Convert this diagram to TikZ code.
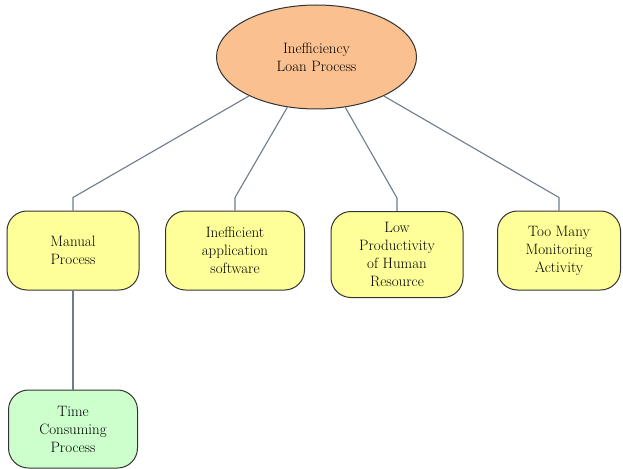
\documentclass[tikz,border=0pt]{standalone}
\definecolor{rootfill}{HTML}{FAC090}
\definecolor{causefill}{HTML}{FFFF99}
\definecolor{effectfill}{HTML}{CCFFCC}
\definecolor{linkgray}{HTML}{6E7B8B}
\tikzset{
  root/.style={ellipse, draw=black!80, line width=1pt, fill=rootfill,
    minimum width=200pt, minimum height=104pt, align=center,
    font=\fontsize{15}{18}\selectfont},
  cause/.style={rectangle, rounded corners=20pt, draw=black!80, line width=1pt,
    fill=causefill, minimum width=132pt, minimum height=79pt, align=center,
    font=\fontsize{15}{18}\selectfont},
  effect/.style={cause, fill=effectfill},
  link/.style={draw=linkgray, line width=1.1pt}
}
\usetikzlibrary{shapes.geometric}
\begin{document}
\begin{tikzpicture}[x=1pt, y=-1pt, node distance=162pt]
      \useasboundingbox (0,0) rectangle (623,468);
      \node (loan) [root] at (316.5,57) {Inefficiency\\Loan Process};
      \node (manual) [cause] at (73,250.5) {Manual\\Process};
      \node (software) [cause, right of=manual, minimum width=139pt] {Inefficient\\application\\software};
      \node (people) [cause, right of=software, minimum height=86pt, yshift=-4pt] {Low\\Productivity\\of Human\\Resource};
      \node (monitor) [cause, right of=people, yshift=4pt, minimum width=123pt] {Too Many\\Monitoring\\Activity};
      \node (time) [effect, below of=manual, node distance=178.5pt, minimum width=129pt, minimum height=78pt] {Time\\Consuming\\Process};
      \draw [link] (loan) -- ([yshift=13pt]manual.north) -- (manual.north);
      \draw [link] (loan) -- ([yshift=13pt]software.north) -- (software.north);
      \draw [link] (loan) -- ([yshift=13pt]people.north) -- (people.north);
      \draw [link] (loan) -- ([yshift=13pt]monitor.north) -- (monitor.north);
      \draw [link] (manual) -- (time);
  \end{tikzpicture}
\end{document}
